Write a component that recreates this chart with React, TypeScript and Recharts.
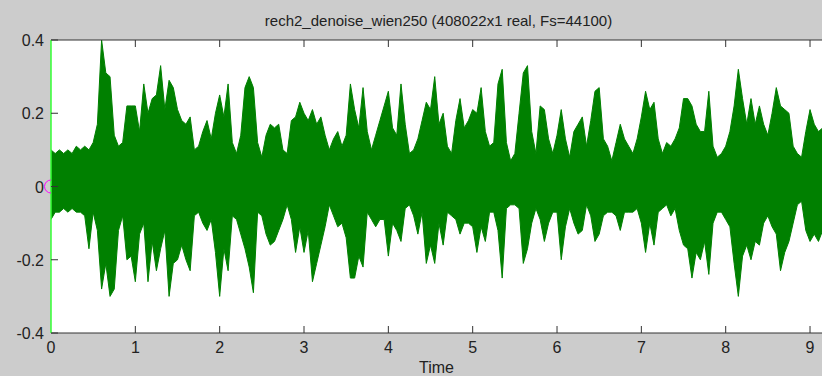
import { Area, CartesianGrid, ComposedChart, ReferenceLine, XAxis, YAxis } from "recharts";

// envelope of the waveform, one value every 0.05 s (max and min in each slot)
const TIME_STEP = 0.05;

const upperEnvelope = [
  0.10, 0.09, 0.10, 0.09, 0.10, 0.09, 0.11, 0.10, 0.11, 0.10,
  0.12, 0.17, 0.40, 0.31, 0.30, 0.14, 0.11, 0.12, 0.22, 0.22,
  0.22, 0.15, 0.28, 0.20, 0.24, 0.25, 0.33, 0.21, 0.29, 0.27,
  0.21, 0.18, 0.17, 0.19, 0.10, 0.11, 0.15, 0.18, 0.13, 0.20,
  0.25, 0.19, 0.28, 0.12, 0.09, 0.14, 0.27, 0.30, 0.27, 0.12,
  0.08, 0.14, 0.17, 0.16, 0.17, 0.10, 0.09, 0.18, 0.19, 0.23,
  0.20, 0.18, 0.21, 0.17, 0.19, 0.14, 0.10, 0.13, 0.15, 0.11,
  0.14, 0.28, 0.21, 0.16, 0.27, 0.15, 0.10, 0.14, 0.18, 0.22,
  0.26, 0.16, 0.14, 0.28, 0.17, 0.09, 0.10, 0.13, 0.18, 0.23,
  0.21, 0.30, 0.17, 0.20, 0.11, 0.09, 0.18, 0.24, 0.16, 0.18,
  0.21, 0.20, 0.27, 0.15, 0.11, 0.12, 0.28, 0.32, 0.12, 0.07,
  0.09, 0.20, 0.31, 0.33, 0.15, 0.09, 0.22, 0.21, 0.13, 0.09,
  0.14, 0.21, 0.13, 0.08, 0.15, 0.17, 0.19, 0.11, 0.18, 0.26,
  0.27, 0.13, 0.11, 0.07, 0.12, 0.17, 0.13, 0.11, 0.09, 0.13,
  0.19, 0.26, 0.21, 0.23, 0.13, 0.09, 0.12, 0.11, 0.13, 0.16,
  0.24, 0.24, 0.22, 0.17, 0.15, 0.15, 0.26, 0.11, 0.08, 0.09,
  0.11, 0.15, 0.22, 0.32, 0.24, 0.17, 0.24, 0.17, 0.22, 0.17,
  0.14, 0.20, 0.27, 0.22, 0.21, 0.20, 0.11, 0.09, 0.08, 0.15,
  0.21, 0.17, 0.15, 0.16,
];

const lowerEnvelope = [
  -0.09, -0.07, -0.07, -0.06, -0.07, -0.06, -0.07, -0.07, -0.08, -0.17,
  -0.07, -0.12, -0.28, -0.21, -0.30, -0.28, -0.12, -0.08, -0.20, -0.19,
  -0.26, -0.13, -0.10, -0.26, -0.15, -0.23, -0.17, -0.12, -0.30, -0.21,
  -0.20, -0.16, -0.20, -0.23, -0.08, -0.07, -0.10, -0.12, -0.09, -0.18,
  -0.30, -0.17, -0.23, -0.08, -0.09, -0.13, -0.17, -0.22, -0.29, -0.07,
  -0.08, -0.13, -0.16, -0.15, -0.12, -0.09, -0.05, -0.09, -0.18, -0.11,
  -0.18, -0.12, -0.26, -0.21, -0.16, -0.11, -0.05, -0.08, -0.11, -0.10,
  -0.14, -0.25, -0.25, -0.19, -0.22, -0.07, -0.09, -0.11, -0.09, -0.09,
  -0.19, -0.10, -0.12, -0.15, -0.06, -0.05, -0.08, -0.13, -0.07, -0.21,
  -0.16, -0.21, -0.10, -0.16, -0.07, -0.08, -0.09, -0.13, -0.10, -0.10,
  -0.11, -0.18, -0.11, -0.15, -0.07, -0.07, -0.12, -0.25, -0.06, -0.05,
  -0.05, -0.06, -0.21, -0.17, -0.10, -0.06, -0.09, -0.15, -0.10, -0.07,
  -0.07, -0.20, -0.11, -0.06, -0.10, -0.13, -0.12, -0.05, -0.08, -0.15,
  -0.13, -0.08, -0.07, -0.07, -0.08, -0.12, -0.07, -0.07, -0.07, -0.06,
  -0.10, -0.18, -0.10, -0.16, -0.07, -0.06, -0.05, -0.08, -0.06, -0.12,
  -0.16, -0.17, -0.25, -0.18, -0.20, -0.15, -0.24, -0.10, -0.07, -0.07,
  -0.09, -0.11, -0.21, -0.30, -0.19, -0.16, -0.20, -0.15, -0.16, -0.10,
  -0.08, -0.11, -0.13, -0.23, -0.18, -0.15, -0.10, -0.05, -0.04, -0.12,
  -0.15, -0.13, -0.15, -0.12,
];

const xTicks = [0, 1, 2, 3, 4, 5, 6, 7, 8, 9];
const yTicks = [-0.4, -0.2, 0, 0.2, 0.4];
const TITLE = "rech2_denoise_wien250 (408022x1 real, Fs=44100)";

const chartData = upperEnvelope.map((hi, i) => ({
  t: Number((i * TIME_STEP).toFixed(2)),
  range: [lowerEnvelope[i], hi],
}));

const PLOT_TOP = 40;
const FONT = "'Liberation Sans', Arial, sans-serif";
const AXIS_COLOR = "#333333";

function XTick({ x, y, payload }: any) {
  return (
    <g>
      {payload.value !== 0 && (
        <>
          <line x1={x} x2={x} y1={y} y2={y - 7} stroke={AXIS_COLOR} />
          <line x1={x} x2={x} y1={PLOT_TOP} y2={PLOT_TOP + 7} stroke={AXIS_COLOR} />
        </>
      )}
      <text x={x} y={y + 20} textAnchor="middle" fontSize={16} fontFamily={FONT} fill="#222">
        {payload.value}
      </text>
    </g>
  );
}

function YTick({ x, y, payload }: any) {
  return (
    <g>
      <line x1={x} x2={x + 7} y1={y} y2={y} stroke={AXIS_COLOR} />
      {payload.value === 0 && (
        <path d={`M ${x} ${y - 6.5} A 6.5 6.5 0 0 0 ${x} ${y + 6.5}`} fill="none" stroke="#ff00ff" />
      )}
      <text x={x - 7} y={y + 6} textAnchor="end" fontSize={16} fontFamily={FONT} fill="#222">
        {String(payload.value)}
      </text>
    </g>
  );
}

export default function App() {
  return (
    <div
      style={{
        position: "fixed",
        left: 0,
        top: 0,
        width: 822,
        height: 376,
        background: "#cccccc",
        overflow: "hidden",
      }}
    >
      <div
        style={{
          position: "absolute",
          left: 51,
          width: 775,
          top: 12,
          textAlign: "center",
          fontFamily: FONT,
          fontSize: 15,
          lineHeight: "17px",
          color: "#222",
          whiteSpace: "nowrap",
        }}
      >
        {TITLE}
      </div>
      <ComposedChart
        width={822}
        height={376}
        data={chartData}
        margin={{ top: PLOT_TOP, right: 0, bottom: 0, left: 0 }}
      >
        <CartesianGrid fill="#ffffff" horizontal={false} vertical={false} />
        <XAxis
          dataKey="t"
          type="number"
          domain={[0, 9.142]}
          allowDataOverflow
          ticks={xTicks}
          interval={0}
          height={43}
          tickSize={0}
          tickMargin={0}
          tickLine={false}
          axisLine={{ stroke: AXIS_COLOR }}
          tick={<XTick />}
          label={{
            value: "Time",
            position: "insideBottom",
            offset: 3,
            fontSize: 16,
            fontFamily: FONT,
            fill: "#222",
          }}
        />
        <YAxis
          type="number"
          domain={[-0.4, 0.4]}
          ticks={yTicks}
          interval={0}
          width={51}
          tickSize={0}
          tickMargin={0}
          tickLine={false}
          axisLine={{ stroke: "#33ff33", strokeWidth: 1.5 }}
          tick={<YTick />}
        />
        <ReferenceLine y={0.4} stroke={AXIS_COLOR} />
        <Area
          dataKey="range"
          type="linear"
          stroke="#008000"
          strokeWidth={1}
          fill="#008000"
          fillOpacity={1}
          dot={false}
          activeDot={false}
          isAnimationActive={false}
        />
      </ComposedChart>
    </div>
  );
}
